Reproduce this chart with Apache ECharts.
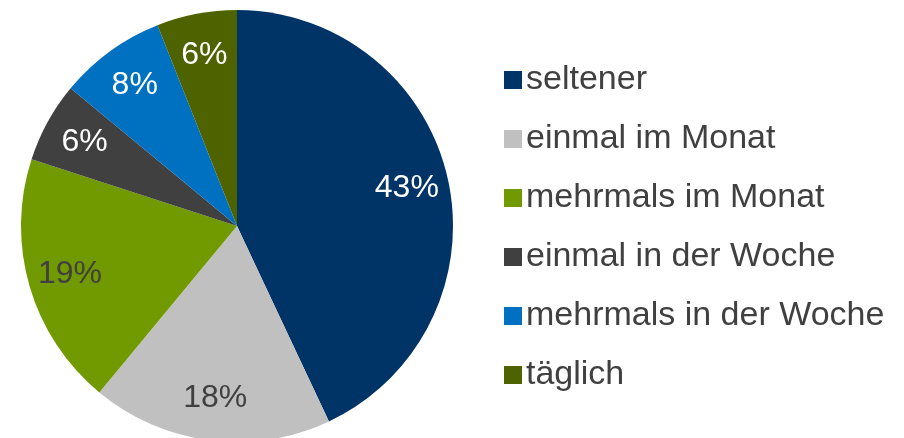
<!DOCTYPE html>
<html>
<head>
<meta charset="utf-8">
<script src="https://cdn.jsdelivr.net/npm/echarts@6/dist/echarts.min.js"></script>
<style>
  html, body { margin: 0; padding: 0; background: #fff; }
  #chart { width: 904px; height: 438px; }
</style>
</head>
<body>
<div id="chart"></div>
<script>
// Kategorien und Anteile in % (im Uhrzeigersinn ab 12 Uhr)
var categories = ['seltener', 'einmal im Monat', 'mehrmals im Monat', 'einmal in der Woche', 'mehrmals in der Woche', 'täglich'];
var values = [43, 18, 19, 6, 8, 6];
var colors = ['#003366', '#C0C0C0', '#709A00', '#404040', '#0070C0', '#4F6200'];
var labelColors = ['#ffffff', '#404040', '#404040', '#ffffff', '#ffffff', '#ffffff'];

var dom = document.getElementById('chart');
var myChart = echarts.init(dom);

var pieData = categories.map(function (name, i) {
    return { name: name, value: values[i], itemStyle: { color: colors[i] } };
});
// zweite, unsichtbare Serie nur fuer die Beschriftung weiter aussen
var labelData = categories.map(function (name, i) {
    return { name: name, value: values[i], label: { color: labelColors[i] } };
});

var option = {
    animation: false,
    textStyle: { fontFamily: 'Liberation Sans, Arial, sans-serif' },
    legend: {
        data: categories,
        orient: 'vertical',
        left: 499,
        top: 58,
        icon: 'rect',
        itemWidth: 18,
        itemHeight: 18,
        itemGap: 25,
        textStyle: {
            fontSize: 34,
            lineHeight: 34,
            color: '#404040',
            padding: [0, 0, 0, -1]
        }
    },
    series: [
        {
            type: 'pie',
            center: [237, 226],
            radius: 216,
            startAngle: 90,
            clockwise: true,
            silent: true,
            label: { show: false },
            labelLine: { show: false },
            emphasis: { disabled: true },
            data: pieData
        },
        {
            type: 'pie',
            center: [237, 226],
            radius: [126, 216],
            startAngle: 90,
            clockwise: true,
            silent: true,
            itemStyle: { color: 'rgba(0,0,0,0)' },
            label: {
                show: true,
                position: 'inside',
                fontSize: 32,
                formatter: function (p) { return Math.round(p.value) + '%'; }
            },
            labelLine: { show: false },
            emphasis: { disabled: true },
            data: labelData
        }
    ]
};
myChart.setOption(option);
</script>
</body>
</html>
